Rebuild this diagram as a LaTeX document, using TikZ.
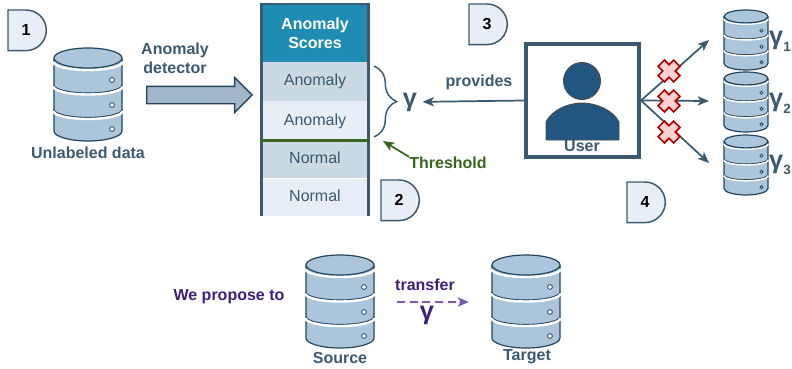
\documentclass[tikz,border=0pt]{standalone}
\usepackage{fontspec}
\setmainfont{Liberation Sans}
\usetikzlibrary{arrows.meta,shapes.arrows,decorations.pathreplacing}

\definecolor{slate}{HTML}{3B5A70}
\definecolor{dbedge}{HTML}{23445D}
\definecolor{dbfill}{HTML}{ABC5DB}
\definecolor{teal}{HTML}{1F8DB3}
\definecolor{cellA}{HTML}{CBD9E3}
\definecolor{cellB}{HTML}{E8EEF6}
\definecolor{darkgreen}{HTML}{38661D}
\definecolor{darkpurple}{HTML}{3D1F7C}
\definecolor{lightpurple}{HTML}{7B5AB0}
\definecolor{userblue}{HTML}{215680}

\tikzset{
	lbl/.style={font=\fontsize{12}{14}\selectfont\bfseries,text=slate,align=center,inner sep=0pt},
	gam/.style={font=\fontsize{19}{22}\selectfont\bfseries,text=slate,inner sep=0pt},
	cellbox/.style={minimum width=80.6pt,inner sep=0pt,outer sep=0pt,text=slate,font=\fontsize{12}{14}\selectfont},
	badge/.style={draw=slate,fill=cellB,line width=1.1pt},
	badgenum/.style={font=\fontsize{12}{14}\selectfont\bfseries,inner sep=0pt},
	dbgap/.style={white,line width=1.8pt},
	tip/.style={-{Stealth[length=8.5pt,width=7pt,inset=2.2pt]},draw=slate,line width=1.3pt},
	db/.pic={
		\draw[dbedge,fill=dbfill,line width=.9pt] (-34,-10) -- (-34,-83) arc (180:360:34 and 10) -- (34,-10);
		\foreach \y in {37,61.5}
			\draw[dbedge,line width=.9pt] (-34,-\y) arc (180:360:34 and 8);
		\foreach \y in {14,38.5,63}
			\draw[dbgap] (-34.6,-\y) arc (180:360:34.6 and 8);
		\draw[dbedge,fill=dbfill,line width=.9pt] (0,-10) ellipse (34 and 10);
		\foreach \y in {32,57,81}
			\draw[dbedge,fill=white,line width=.6pt] (24,-\y) circle (2.4);
	},
	xmark/.pic={
		\draw[draw=red!70!black,fill=red!18,line width=1.2pt,rotate=45]
			(-4.5,-11) -- (4.5,-11) -- (4.5,-4.5) -- (11,-4.5) -- (11,4.5) -- (4.5,4.5)
			-- (4.5,11) -- (-4.5,11) -- (-4.5,4.5) -- (-11,4.5) -- (-11,-4.5) -- (-4.5,-4.5) -- cycle;
	}
}

\begin{document}
\begin{tikzpicture}[x=.75pt,y=.75pt]

\useasboundingbox (0,0) rectangle (792,-368);

% number badges
\foreach \x/\y/\n in {8/-10/1,381/-180/2,469/-4/3,627/-182/4}{
	\draw[badge] (\x,\y) -- ++(18,0) arc (90:-90:20.3) -- ++(-18,0) -- cycle;
	\node[badgenum] (badge\n) at (\x+18,\y-20) {\n};
}

% unlabeled data
\pic at (88,-48) {db};
\node[lbl] (unlabeled) at (88,-153) {Unlabeled data};
\node[lbl] (detector) at (175,-58) {Anomaly\\detector};
\node[single arrow,draw=dbedge,fill=dbfill!80!gray,line width=1.1pt,inner xsep=0pt,inner ysep=6pt,
	minimum height=79pt,single arrow head extend=6.5pt,anchor=tail] (detectarrow) at (146,-95) {};

% score table
\node[cellbox,fill=teal,minimum height=43.5pt,text=white,align=center,font=\fontsize{12}{14}\selectfont\bfseries] (head) at (315,-33) {Anomaly\\Scores};
\foreach \n/\y/\h/\c/\t in {1/81.5/29.6/cellA/Anomaly,2/121/29.6/cellB/Anomaly,3/159.5/28.2/cellA/Normal,4/197.5/28.2/cellB/Normal}
	\node[cellbox,fill=\c,minimum height=\h pt,text height=9pt,text depth=3pt] (cell\n) at (315,-\y) {\t};
\draw[slate,line width=2.2pt] (cell4.south west) -- (head.north west) -- (head.north east) -- (cell4.south east);
\draw[darkgreen,line width=2.2pt] (cell2.south west) -- (cell2.south east);

% threshold
\node[lbl,text=darkgreen] (threshold) at (448,-163) {Threshold};
\coordinate (thresholdtip) at (383,-141);
\draw[tip,draw=darkgreen,fill=darkgreen] (threshold.north west) -- (thresholdtip);

% brace and gamma
\coordinate (bracetop) at (374,-66);
\coordinate (bracebot) at (374,-137);
\draw[slate,line width=1.1pt,decorate,decoration={brace,amplitude=17pt}] (bracetop) -- (bracebot);
\node[gam,inner sep=4pt] (gamma) at (410,-102) {γ};

% user
\node[draw=slate,line width=2.8pt,minimum size=85pt,inner sep=0pt,fill=white] (user) at (582.5,-100.5) {};
\fill[userblue,draw=black!70,line width=.7pt] (582,-81) circle (18.5);
\draw[fill=userblue,draw=black!70,line width=.7pt] (546,-140) -- (546,-122)
	.. controls (552,-110) and (568,-103) .. (582,-103)
	.. controls (596,-103) and (613,-110) .. (619,-122) -- (619,-140) -- cycle;
\node[lbl] (userlabel) at (582,-146.5) {User};
\node[lbl] (provides) at (479,-82) {provides};
\draw[tip] (user.west) -- (gamma);

% candidate sets
\foreach \n/\y/\g in {1/-10/-41,2/-72/-103,3/-135/-165}{
	\pic[scale=.645,dbgap/.append style={line width=1.1pt}] at (746,\y) {db};
	\node[gam,anchor=east] (gamma\n) at (791,\g) {γ\raisebox{-5pt}{\fontsize{10}{10}\selectfont\n}};
}
\coordinate (end1) at (709,-40);
\coordinate (end2) at (709,-101);
\coordinate (end3) at (709,-163);
\foreach \n in {1,2,3}
	\draw[tip] (user.east) -- (end\n);
\foreach \y in {71,101,132}
	\pic at (669,-\y) {xmark};

% transfer
\node[lbl,text=darkpurple] (propose) at (229,-297) {We propose to};
\pic at (340,-255) {db};
\node[lbl] (source) at (340,-358) {Source};
\pic at (526,-255) {db};
\node[lbl] (target) at (527,-357) {Target};
\node[lbl,text=darkpurple] (transfer) at (425,-285) {transfer};
\coordinate (transferstart) at (397,-302);
\coordinate (transferend) at (469,-302);
\draw[tip,draw=lightpurple,fill=lightpurple,dash pattern=on 6pt off 3.5pt,line width=1pt] (transferstart) -- (transferend);
\node[gam,text=darkpurple] (gammatransfer) at (427,-315) {γ};

\end{tikzpicture}
\end{document}
